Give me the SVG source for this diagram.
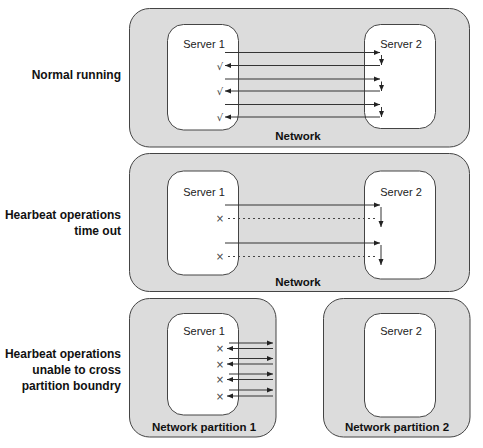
<svg xmlns="http://www.w3.org/2000/svg" width="483" height="448" viewBox="0 0 483 448">
<defs>
<marker id="ah" markerWidth="6" markerHeight="6" refX="6" refY="3" orient="auto" markerUnits="userSpaceOnUse">
<path d="M0,0.5 L6,3 L0,5.5 z" fill="#222"/>
</marker>
<style>
.net{fill:#dcdcdc;stroke:#444;stroke-width:1}
.srv{fill:#fff;stroke:#444;stroke-width:1}
.ln{stroke:#333;stroke-width:1;fill:none}
.ar{stroke:#333;stroke-width:1;fill:none;marker-end:url(#ah)}
.dash{stroke:#444;stroke-width:1;fill:none;stroke-dasharray:2,3}
.lbl{font-family:"Liberation Sans",Arial,sans-serif;font-size:12px;font-weight:bold;fill:#111}
.st{font-family:"Liberation Sans",Arial,sans-serif;font-size:11px;fill:#222;text-anchor:middle}
.nt{font-family:"Liberation Sans",Arial,sans-serif;font-size:11.5px;font-weight:bold;fill:#111;text-anchor:middle}
.mk{font-family:"DejaVu Sans",sans-serif;font-size:10px;fill:#444;text-anchor:middle}
</style>
</defs>
<rect width="483" height="448" fill="#fff"/>

<g id="labels" class="lbl" text-anchor="end">
<text x="121" y="79">Normal running</text>
<text x="121" y="219">Hearbeat operations</text>
<text x="121" y="235">time out</text>
<text x="121" y="358">Hearbeat operations</text>
<text x="121" y="374">unable to cross</text>
<text x="121" y="390">partition boundry</text>
</g>

<g id="network1">
<rect class="net" x="129.5" y="8.5" width="340" height="138.5" rx="20"/>
<text class="nt" x="298" y="140">Network</text>
</g>
<g id="n1-server1">
<rect class="srv" x="167.5" y="24.5" width="71" height="105.5" rx="16"/>
<text class="st" x="204" y="48">Server 1</text>
</g>
<g id="n1-server2">
<rect class="srv" x="364.5" y="24.5" width="71" height="104" rx="16"/>
<text class="st" x="401" y="48">Server 2</text>
</g>

<g id="network2">
<rect class="net" x="129.5" y="153.5" width="340" height="138" rx="20"/>
<text class="nt" x="298" y="286">Network</text>
</g>
<g id="n2-server1">
<rect class="srv" x="167.5" y="171" width="71" height="104" rx="16"/>
<text class="st" x="204" y="196">Server 1</text>
</g>
<g id="n2-server2">
<rect class="srv" x="364.5" y="171" width="71" height="108" rx="16"/>
<text class="st" x="401" y="196">Server 2</text>
</g>

<g id="partition1">
<rect class="net" x="129.5" y="298.5" width="146.5" height="138.5" rx="20"/>
<text class="nt" x="204" y="431">Network partition 1</text>
</g>
<g id="p1-server1">
<rect class="srv" x="167.5" y="313.5" width="71" height="101.5" rx="16"/>
<text class="st" x="204" y="335">Server 1</text>
</g>
<g id="partition2">
<rect class="net" x="323.5" y="298.5" width="146.5" height="138.5" rx="20"/>
<text class="nt" x="397" y="431">Network partition 2</text>
</g>
<g id="p2-server2">
<rect class="srv" x="364.5" y="313.5" width="71" height="103.5" rx="16"/>
<text class="st" x="401" y="335">Server 2</text>
</g>

<g id="connectors">
<!-- normal running -->
<line class="ar" x1="225" y1="52.5" x2="380" y2="52.5"/>
<line class="ar" x1="381.5" y1="55" x2="381.5" y2="65"/>
<line class="ar" x1="380" y1="65.5" x2="225" y2="65.5"/>
<line class="ar" x1="225" y1="79" x2="380" y2="79"/>
<line class="ar" x1="381.5" y1="81.5" x2="381.5" y2="91"/>
<line class="ar" x1="380" y1="91" x2="225" y2="91"/>
<line class="ar" x1="225" y1="104.5" x2="380" y2="104.5"/>
<line class="ar" x1="381.5" y1="107" x2="381.5" y2="117"/>
<line class="ar" x1="380" y1="117" x2="225" y2="117"/>
<!-- time out -->
<line class="ar" x1="225" y1="205" x2="380" y2="205"/>
<line class="ar" x1="381" y1="207" x2="381" y2="227"/>
<line class="dash" x1="228" y1="218.5" x2="378" y2="218.5"/>
<line class="ar" x1="225" y1="243" x2="380" y2="243"/>
<line class="ar" x1="381" y1="245" x2="381" y2="265"/>
<line class="dash" x1="228" y1="256.5" x2="378" y2="256.5"/>
<!-- partition -->
<line class="ar" x1="229" y1="343" x2="273" y2="343"/>
<line class="ar" x1="273" y1="348.5" x2="227" y2="348.5"/>
<line class="ar" x1="229" y1="358.5" x2="273" y2="358.5"/>
<line class="ar" x1="273" y1="364" x2="227" y2="364"/>
<line class="ar" x1="229" y1="374" x2="273" y2="374"/>
<line class="ar" x1="273" y1="379.5" x2="227" y2="379.5"/>
<line class="ar" x1="229" y1="390" x2="273" y2="390"/>
<line class="ar" x1="273" y1="396" x2="227" y2="396"/>
</g>

<g id="marks" class="mk">
<text x="220" y="69.5">√</text>
<text x="220" y="95">√</text>
<text x="220" y="121">√</text>
<text x="220" y="222">×</text>
<text x="220" y="260">×</text>
<text x="220" y="352">×</text>
<text x="220" y="367.5">×</text>
<text x="220" y="383">×</text>
<text x="220" y="399.5">×</text>
</g>
</svg>
